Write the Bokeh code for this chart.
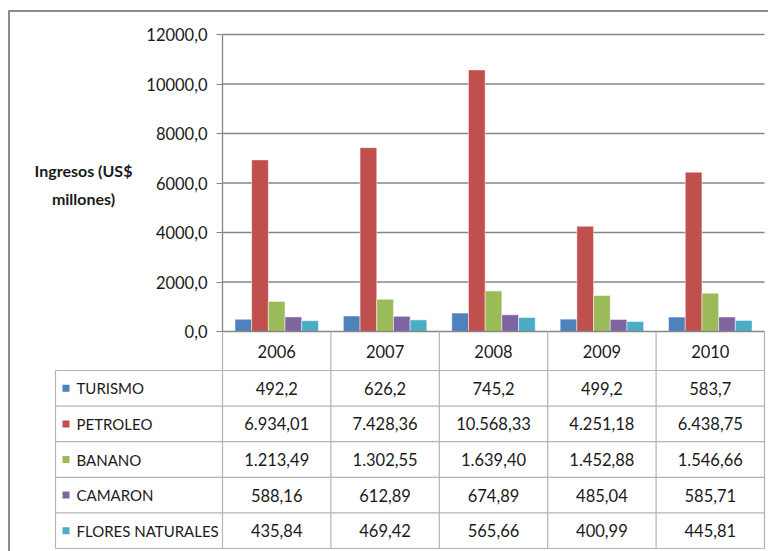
from bokeh.plotting import figure
from bokeh.models import Range1d, LinearAxis, FixedTicker, CustomJSTickFormatter, ColumnDataSource
from bokeh.core.properties import value
from bokeh.embed import file_html
from bokeh.resources import INLINE

# --- data -------------------------------------------------------------
years = ["2006", "2007", "2008", "2009", "2010"]
series_names = ["TURISMO", "PETROLEO", "BANANO", "CAMARON", "FLORES NATURALES"]
turismo = [492.2, 626.2, 745.2, 499.2, 583.7]
petroleo = [6934.01, 7428.36, 10568.33, 4251.18, 6438.75]
banano = [1213.49, 1302.55, 1639.40, 1452.88, 1546.66]
camaron = [588.16, 612.89, 674.89, 485.04, 585.71]
flores = [435.84, 469.42, 565.66, 400.99, 445.81]
series_decimals = [1, 2, 2, 2, 2]
y_ticks = [0, 2000, 4000, 6000, 8000, 10000, 12000]
y_title = ["Ingresos (US$", "millones)"]

series_values = [turismo, petroleo, banano, camaron, flores]
colors = ["#4F81BD", "#C0504D", "#9BBB59", "#8064A2", "#4BACC6"]

# --- page geometry (pixels) -------------------------------------------
W, H = 768, 551
LEFT, RIGHT = 222, 764          # plot area
TOP, BASE = 34, 331             # y of 12000 and of 0
HEADER_H = 39                   # year row of the table
ROW_H = (548 - (BASE + HEADER_H)) / 5
TABLE_LEFT = 55
N = len(years)
CAT_W = (RIGHT - LEFT) / N
Y_SCALE = (BASE - TOP) / y_ticks[-1]
BAR_W = 0.154

FONT = "Lato"
TEXT = "#1a1a1a"
GRID = "#868686"
TABLE_LINE = "#b4b4b4"


def es_number(v, d):
    s = f"{v:,.{d}f}"
    return s.replace(",", "_").replace(".", ",").replace("_", ".")


p = figure(
    width=W, height=H,
    x_range=Range1d(-LEFT / CAT_W, N + (W - RIGHT) / CAT_W),
    y_range=Range1d(-(H - BASE) / Y_SCALE, y_ticks[-1] + TOP / Y_SCALE),
    x_axis_location=None, y_axis_location=None,
    toolbar_location=None, output_backend="svg",
    min_border=0, outline_line_color=None,
    background_fill_color="white", border_fill_color="white",
)
p.xgrid.visible = False
p.ygrid.visible = False
p.extra_x_ranges = {"px": Range1d(0, W)}
p.extra_y_ranges = {"px": Range1d(H, 0)}

# outer chart border
p.segment(x0=[8, 8.5], y0=[10.5, 10], x1=[W, 8.5], y1=[10.5, H],
          line_color="#8c8c8c", line_width=2, x_range_name="px", y_range_name="px")

# horizontal gridlines
grid_y = y_ticks[1:]
p.segment(x0=[0] * len(grid_y), x1=[N] * len(grid_y), y0=grid_y, y1=grid_y,
          line_color=GRID, line_width=1.3)

# bars
for k, (vals, col) in enumerate(zip(series_values, colors)):
    xs = [i + 0.5 + (k - 2) * BAR_W for i in range(N)]
    p.vbar(x=xs, top=vals, bottom=0, width=BAR_W, fill_color=col,
           line_color="white", line_alpha=0.6, line_width=0.8)

# category axis line at zero
p.segment(x0=[0], x1=[N], y0=[0], y1=[0], line_color=GRID, line_width=1.3)

# value axis
yaxis = LinearAxis(
    fixed_location=0, bounds=(0, y_ticks[-1]),
    ticker=FixedTicker(ticks=y_ticks),
    formatter=CustomJSTickFormatter(code="return tick.toFixed(1).replace('.', ',')"),
    axis_line_color=GRID, axis_line_width=1.3,
    major_tick_line_color=GRID, major_tick_in=0, major_tick_out=6,
    minor_tick_line_color=None, major_label_standoff=9,
    major_label_text_font=FONT, major_label_text_font_size="16.5px",
    major_label_text_color=TEXT,
)
p.add_layout(yaxis, "left")

# axis title
p.text(x=[83, 83], y=[170, 198], text=y_title, text_font=value(FONT),
       text_font_size="16px", text_font_style="bold", text_color=TEXT,
       text_align="center", text_baseline="middle",
       x_range_name="px", y_range_name="px")

# --- data table ---------------------------------------------------------
table_top = BASE + HEADER_H
row_lines = [table_top + r * ROW_H for r in range(N + 1)]
p.segment(x0=[TABLE_LEFT] * len(row_lines), x1=[RIGHT] * len(row_lines),
          y0=row_lines, y1=row_lines, line_color=TABLE_LINE, line_width=1.2,
          x_range_name="px", y_range_name="px")
p.segment(x0=[TABLE_LEFT], x1=[TABLE_LEFT], y0=[table_top], y1=[row_lines[-1]],
          line_color=TABLE_LINE, line_width=1.2, x_range_name="px", y_range_name="px")
bounds_x = list(range(N + 1))
p.segment(x0=bounds_x, x1=bounds_x, y0=[BASE] * len(bounds_x), y1=[row_lines[-1]] * len(bounds_x),
          line_color=TABLE_LINE, line_width=1.2, y_range_name="px")

centers = [i + 0.5 for i in range(N)]
p.text(x=centers, y=[BASE + HEADER_H / 2] * N, text=years, text_font=value(FONT),
       text_font_size="16.5px", text_color=TEXT, text_align="center",
       text_baseline="middle", y_range_name="px")

cell_x, cell_y, cell_t = [], [], []
for r, (vals, d) in enumerate(zip(series_values, series_decimals)):
    yc = table_top + (r + 0.5) * ROW_H
    for i, v in enumerate(vals):
        cell_x.append(i + 0.5)
        cell_y.append(yc)
        cell_t.append(es_number(v, d))
p.text(x=cell_x, y=cell_y, text=cell_t, text_font=value(FONT),
       text_font_size="16.5px", text_color=TEXT, text_align="center",
       text_baseline="middle", y_range_name="px")

row_centers = [table_top + (r + 0.5) * ROW_H for r in range(N)]
legend_src = ColumnDataSource(dict(y=row_centers, name=series_names, color=colors))
p.scatter(x=65.5, y="y", marker="square", size=7, fill_color="color", line_color=None,
          source=legend_src, x_range_name="px", y_range_name="px")
p.text(x=76, y="y", text="name", text_font=value(FONT), text_font_size="15px",
       text_color=TEXT, text_align="left", text_baseline="middle",
       source=legend_src, x_range_name="px", y_range_name="px")

open("out.html", "w").write(file_html(p, INLINE))
